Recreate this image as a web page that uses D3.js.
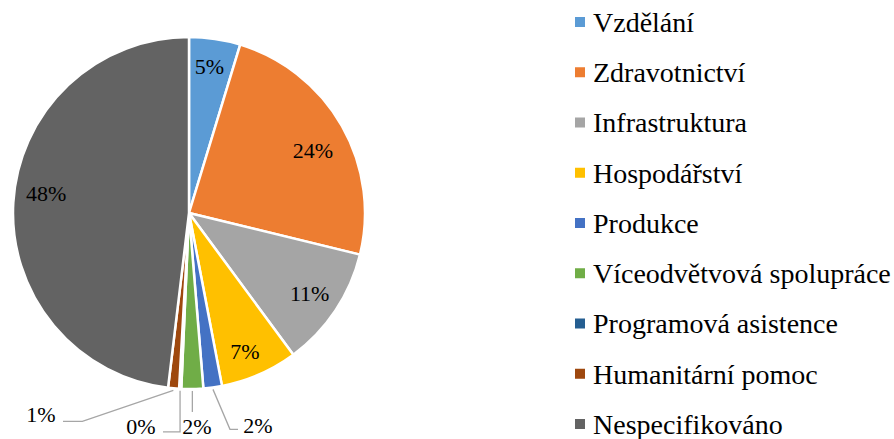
<!DOCTYPE html>
<html>
<head>
<meta charset="utf-8">
<script src="https://cdn.jsdelivr.net/npm/d3@7"></script>
<style>
  body { margin: 0; background: #fff; }
</style>
</head>
<body>
<div id="chart"></div>
<script>
// data (percent of total)
const categories = ["Vzdělání", "Zdravotnictví", "Infrastruktura", "Hospodářství", "Produkce",
    "Víceodvětvová spolupráce", "Programová asistence", "Humanitární pomoc", "Nespecifikováno"];
const shares = [4.7, 24.1, 11.1, 7.1, 1.7, 2.0, 0.2, 1.0, 48.1];
const labels = ["5%", "24%", "11%", "7%", "2%", "2%", "0%", "1%", "48%"];
const colors = ["#5B9BD5", "#ED7D31", "#A5A5A5", "#FFC000", "#4472C4", "#70AD47", "#255E91", "#9E480E", "#636363"];

const width = 894, height = 439;
const cx = 189, cy = 213, R = 176;
const fontFam = "Liberation Serif";

// small slices get an outside label with a leader line (layout only)
const outside = {
    4: { dx: 17, dy: 40, tx: 69, ty: 220 },    // blue 2%
    5: { dx: 0, dy: 21, tx: 8, ty: 221 },      // green 2%
    6: { dx: 0, dy: 41, tx: -48, ty: 221 },    // 0%
    7: { dx: -91, dy: 31, tx: -148, ty: 209 }  // 1%
};
// small nudges of inside labels, like the original placement
const nudge = { 0: [-1, -3], 1: [-2, 9], 3: [-2, 5], 8: [2, -11] };

const svg = d3.select("#chart").append("svg")
    .attr("width", width)
    .attr("height", height)
    .style("display", "block");

const pie = d3.pie().sort(null).value(d => d.v);
const arcs = pie(categories.map((c, i) => ({ name: c, v: shares[i], i: i })));

const arc = d3.arc().innerRadius(0).outerRadius(R);
const labelArc = d3.arc().innerRadius(145).outerRadius(145);

const g = svg.append("g").attr("transform", `translate(${cx},${cy})`);

g.selectAll("path.slice")
    .data(arcs)
    .join("path")
    .attr("class", "slice")
    .attr("d", arc)
    .attr("fill", d => colors[d.data.i])
    .attr("stroke", "#fff")
    .attr("stroke-width", 2.5)
    .attr("stroke-linejoin", "round");

// inside labels
g.selectAll("text.inside")
    .data(arcs.filter(d => !(d.data.i in outside)))
    .join("text")
    .attr("class", "inside")
    .attr("transform", d => {
        const c = labelArc.centroid(d);
        const n = nudge[d.data.i] || [0, 0];
        return `translate(${c[0] + n[0]},${c[1] + n[1]})`;
    })
    .attr("text-anchor", "middle")
    .attr("dy", "0.35em")
    .style("font-family", fontFam)
    .style("font-size", "22px")
    .attr("fill", "#000")
    .text(d => labels[d.data.i]);

// outside labels + leaders
const outs = arcs.filter(d => d.data.i in outside);
outs.forEach(d => {
    const o = outside[d.data.i];
    const a = (d.startAngle + d.endAngle) / 2;
    const p0 = [Math.sin(a) * (R + 2), -Math.cos(a) * (R + 2)];
    const p1 = [p0[0] + o.dx, p0[1] + o.dy];
    let p2;
    if (o.tx < p1[0] - 5) p2 = [o.tx + 22, p1[1]];
    else if (o.tx > p1[0] + 5) p2 = [o.tx - 20, p1[1]];
    else p2 = p1;
    g.append("polyline")
        .attr("points", [p0, p1, p2].map(p => p.join(",")).join(" "))
        .attr("fill", "none")
        .attr("stroke", "#A6A6A6")
        .attr("stroke-width", 1.3);
    g.append("text")
        .attr("x", o.tx)
        .attr("y", o.ty)
        .attr("text-anchor", "middle")
        .style("font-family", fontFam)
        .style("font-size", "22px")
        .attr("fill", "#000")
        .text(labels[d.data.i]);
});

// legend
const ly = d3.scalePoint().domain(categories).range([22, 424]);
const legend = svg.append("g").selectAll("g")
    .data(categories)
    .join("g")
    .attr("transform", d => `translate(575,${ly(d)})`);

legend.append("rect")
    .attr("x", 0).attr("y", -5)
    .attr("width", 10).attr("height", 10)
    .attr("fill", (d, i) => colors[i]);

legend.append("text")
    .attr("x", 18)
    .attr("dy", "0.35em")
    .style("font-family", fontFam)
    .style("font-size", "28px")
    .attr("fill", "#000")
    .text(d => d);
</script>
</body>
</html>
